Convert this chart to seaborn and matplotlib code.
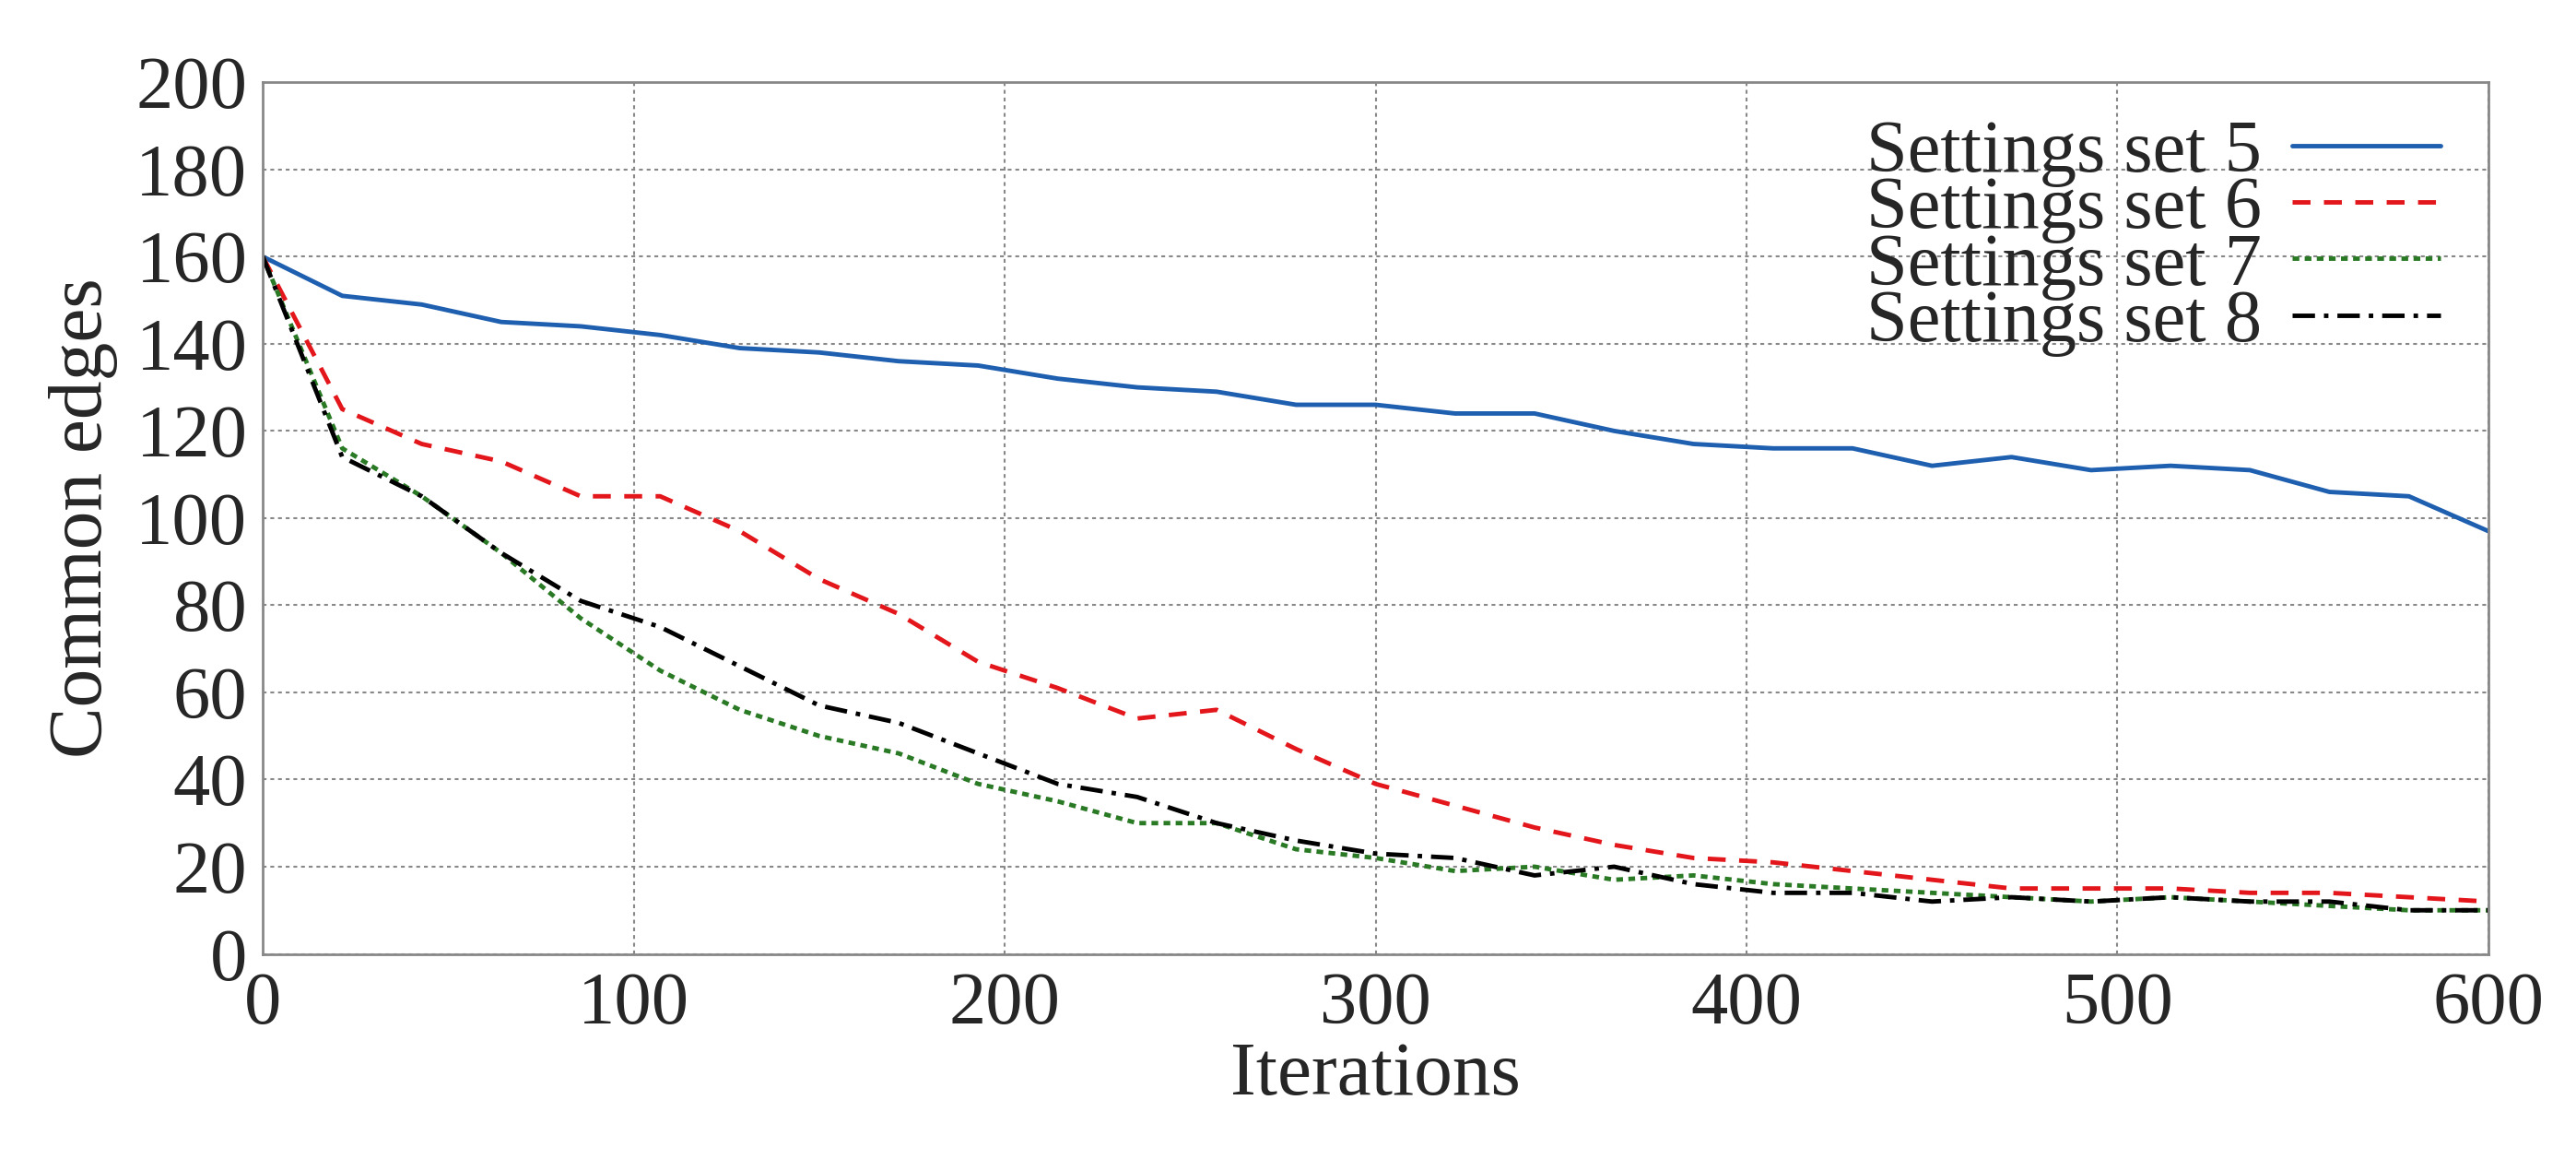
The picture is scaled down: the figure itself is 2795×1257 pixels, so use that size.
import numpy as np
import pandas as pd
import seaborn as sns
import matplotlib
matplotlib.use("Agg")
import matplotlib.pyplot as plt

iterations = [round(i * 600 / 28, 2) for i in range(29)]
set5 = [160, 151, 149, 145, 144, 142, 139, 138, 136, 135, 132, 130, 129, 126, 126, 124, 124, 120, 117, 116, 116, 112, 114, 111, 112, 111, 106, 105, 97]
set6 = [160, 125, 117, 113, 105, 105, 97, 86, 78, 67, 61, 54, 56, 47, 39, 34, 29, 25, 22, 21, 19, 17, 15, 15, 15, 14, 14, 13, 12]
set7 = [160, 116, 105, 92, 77, 65, 56, 50, 46, 39, 35, 30, 30, 24, 22, 19, 20, 17, 18, 16, 15, 14, 13, 12, 13, 12, 11, 10, 10]
set8 = [160, 114, 105, 92, 81, 75, 66, 57, 53, 46, 39, 36, 30, 26, 23, 22, 18, 20, 16, 14, 14, 12, 13, 12, 13, 12, 12, 10, 10]
labels = ["Settings set 5", "Settings set 6", "Settings set 7", "Settings set 8"]

sns.set_style("white")
plt.rcParams['font.family'] = ['Liberation Serif', 'DejaVu Serif']

fig = plt.figure(figsize=(27.95, 12.57), dpi=100)
ax = fig.add_axes([0.102, 0.177, 0.864, 0.752])

styles = [
    dict(color="#1f5fb0", linestyle="-", linewidth=3.5),
    dict(color="#e3161b", linestyle=(0, (4, 3)), linewidth=3.5),
    dict(color="#2a7a25", linestyle=(0, (1.5, 1.2)), linewidth=3.5),
    dict(color="black", linestyle=(0, (5, 2, 1, 2)), linewidth=3.5),
]
for lab, ys, st in zip(labels, [set5, set6, set7, set8], styles):
    df = pd.DataFrame({"x": iterations, "y": ys})
    sns.lineplot(data=df, x="x", y="y", ax=ax, label=lab, **st)

ax.set_xlim(0, 600)
ax.set_ylim(0, 200)
ax.set_xticks(range(0, 601, 100))
ax.set_yticks(range(0, 201, 20))
ax.grid(True, color="#888888", linestyle=(0, (2, 2)), linewidth=1.5)
for s in ax.spines.values():
    s.set_color("#888888")
    s.set_linewidth(2)
ax.tick_params(labelsize=58, direction="in", length=10, color="#888888", width=2)
ax.tick_params(axis="x", pad=14)
ax.tick_params(axis="y", pad=12)
ax.set_xlabel("Iterations", fontsize=60, labelpad=2)
ax.set_ylabel("Common edges", fontsize=60, labelpad=14)
leg = ax.legend(loc="upper right", frameon=False, markerfirst=False, fontsize=58,
                handlelength=2.0, handletextpad=0.4, labelspacing=-0.15,
                borderaxespad=0.1, bbox_to_anchor=(0.995, 1.0))
fig.savefig("out.png", dpi=100)
